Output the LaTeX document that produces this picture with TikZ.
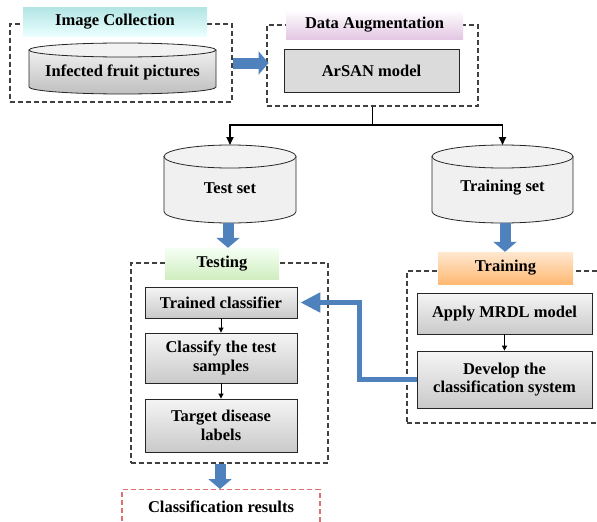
\documentclass[tikz,border=0pt]{standalone}
\usepackage{fontspec}
\setmainfont{Liberation Serif}
\usetikzlibrary{arrows.meta}
\definecolor{flowblue}{HTML}{4F81BD}
\definecolor{framegray}{HTML}{404040}
\definecolor{resultred}{HTML}{E07070}
% drum-shaped store: left x, right x, top y, bottom y, cap half-height, style
\newcommand\drumshape[6]{%
  \pgfmathsetmacro\dcx{(#1+#2)/2}%
  \pgfmathsetmacro\drx{(#2-#1)/2}%
  \pgfmathsetmacro\dya{#3+#5}%
  \pgfmathsetmacro\dyb{#4-#5}%
  \path[#6] (#1,\dya) -- (#1,\dyb)
     arc[start angle=180,end angle=0,x radius=\drx,y radius=#5]
     -- (#2,\dya) -- cycle;
  \path[#6,shading=axis,top color=gray!10,bottom color=gray!10] (\dcx,\dya) ellipse[x radius=\drx,y radius=#5];
}
\begin{document}
\begin{tikzpicture}[x=1pt,y=-1pt,
  font=\fontsize{16.5}{18.5}\selectfont\bfseries,
  group/.style={draw=framegray,line width=1.1pt,dash pattern=on 5pt off 3pt,minimum width=#1},
  stage/.style={inner sep=0pt,align=center},
  procbox/.style={draw=black!85,line width=0.8pt,top color=gray!8,bottom color=gray!42,align=center,inner sep=0pt},
  flatbox/.style={draw=black!85,line width=0.8pt,fill=gray!28,align=center,inner sep=0pt},
  link/.style={line width=1.8pt,-{Triangle[length=8pt,width=7pt]}},
  step arrow/.style={line width=0.8pt,-{Triangle[length=5pt,width=5pt]}},
  blockflow/.style={draw=flowblue,line width=11pt,-{Triangle[length=10pt,width=23pt]}},
]
\useasboundingbox (0,0) rectangle (597,522);

% ---- Image collection ----
\node[group=222pt,minimum height=78pt] (colgrp) at (121,63) {};
\node[stage,minimum width=184pt,minimum height=29pt,top color=cyan!30!teal!30,bottom color=cyan!8] (coltitle) at (115,21.5) {Image Collection};
\drumshape{29}{216}{43}{94}{7}{draw=black!85,line width=0.8pt,top color=gray!12,bottom color=gray!50}
\node[stage] (pics) at (122.5,72) {Infected fruit pictures};

% ---- Data augmentation ----
\node[group=211pt,minimum height=81pt] (auggrp) at (372.5,65.5) {};
\node[stage,minimum width=177pt,minimum height=29pt,top color=white,bottom color=violet!22] (augtitle) at (374.5,24.5) {Data Augmentation};
\node[flatbox,minimum width=175pt,minimum height=43pt] (arsan) at (371.5,70.5) {ArSAN model};

% ---- Test / training stores ----
\drumshape{164}{296}{145}{223}{11.5}{draw=black!85,line width=0.8pt,fill=gray!12}
\node[stage] (testset) at (230,188) {Test set};
\coordinate (testtop) at (230,145);
\coordinate (testbot) at (228,223);
\drumshape{432}{573}{145}{223}{11.5}{draw=black!85,line width=0.8pt,fill=gray!12}
\node[stage] (trainset) at (502.5,188) {Training set};
\coordinate (traintop) at (502.5,145);
\coordinate (trainbot) at (505,223);

% ---- Testing ----
\node[group=197pt,minimum height=200pt] (testgrp) at (229.5,363) {};
\node[stage,minimum width=114pt,minimum height=31pt,top color=green!4,bottom color=green!45!olive!25] (testtitle) at (222,263.5) {Testing};
\node[procbox,minimum width=152pt,minimum height=31pt] (trained) at (221,302.5) {Trained classifier};
\node[procbox,minimum width=152pt,minimum height=50pt] (classify) at (221,358) {Classify the test\\samples};
\node[procbox,minimum width=152pt,minimum height=53pt] (target) at (221,425.5) {Target disease\\labels};

% ---- Training ----
\node[group=203pt,minimum height=152pt] (traingrp) at (508.5,347) {};
\node[stage,minimum width=135pt,minimum height=32pt,top color=orange!18,bottom color=orange!55] (traintitle) at (505.5,268) {Training};
\node[procbox,minimum width=175pt,minimum height=41pt] (apply) at (504.5,313.5) {Apply MRDL model};
\node[procbox,minimum width=175pt,minimum height=57pt] (develop) at (504.5,379.5) {Develop the\\classification system};

% ---- Result ----
\node[draw=resultred,line width=1.1pt,dash pattern=on 5pt off 3pt,minimum width=198pt,minimum height=50pt,anchor=north] (results) at (221,489) {};
\node[stage] (restext) at (221,507) {Classification results};

% ---- Connectors ----
\draw[blockflow] (colgrp.east) ++(0,0) coordinate (c1) -- ([xshift=36pt]c1);
\coordinate (split) at (372.5,125);
\draw[line width=1.8pt] (auggrp.south) -- (split);
\draw[link] (split) -| (testtop);
\draw[link] (split) -| (traintop);
\draw[blockflow] (testbot) -- (testbot |- testtitle.north);
\draw[blockflow] (trainbot) -- (trainbot |- traintitle.north);
\draw[blockflow] ([xshift=-1pt]results.north |- testgrp.south) -- ([xshift=-1pt]results.north);
\draw[step arrow] (trained) -- (classify);
\draw[step arrow] (classify) -- (target);
\draw[step arrow] (apply) -- (develop);
\draw[draw=flowblue,line width=5pt,-{Triangle[length=20pt,width=19pt]}]
  (develop.west) -- ++(-57,0) |- ([xshift=3pt]trained.east);
\end{tikzpicture}
\end{document}
